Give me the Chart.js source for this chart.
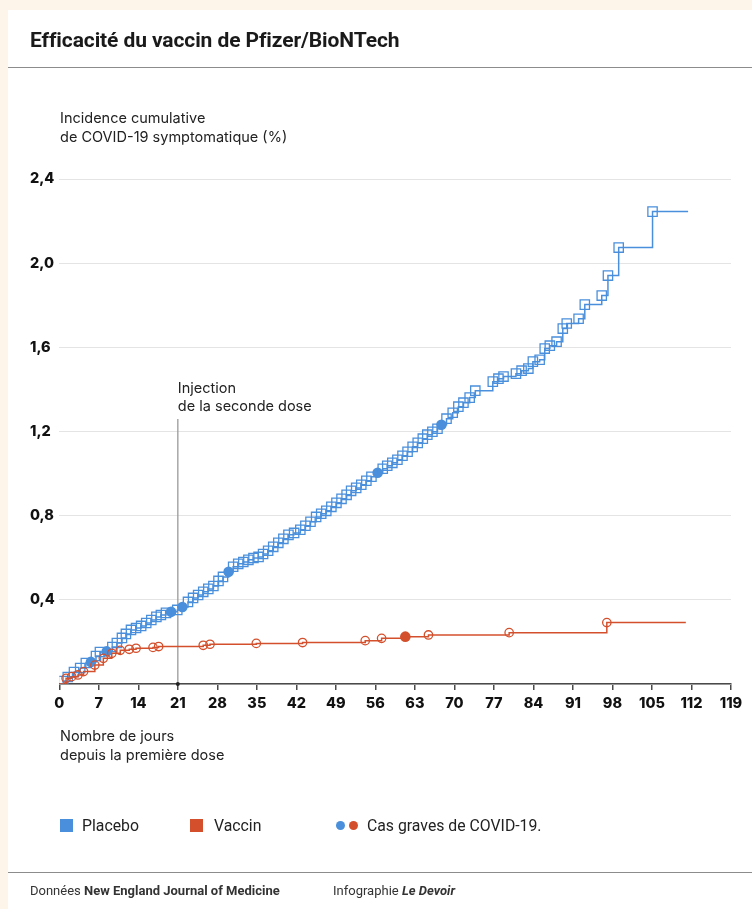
<!DOCTYPE html>
<html lang="fr">
<head>
<meta charset="utf-8">
<script src="https://cdn.jsdelivr.net/npm/chart.js@4.4.1/dist/chart.umd.min.js"></script>
<style>
  html, body { margin: 0; padding: 0; background: #fdf5ea; }
  #page { position: relative; width: 752px; height: 909px; overflow: hidden; }
  #card { position: absolute; left: 8px; top: 10px; right: 0; bottom: 0; background: #fff; }
  canvas { position: absolute; left: 0; top: 0; }
  .txt { position: absolute; color: #222; white-space: nowrap; }
  #title { left: 30px; top: 28px; font: 700 21px Roboto, sans-serif; letter-spacing: -0.1px; color: #1a1a1a; }
  .rule { position: absolute; left: 8px; right: 0; height: 0; border-top: 1.5px solid #8c8c8c; }
  .axt { font: 400 14.5px Inter, sans-serif; line-height: 19px; color: #222; }
  .leg { font: 400 15.8px Roboto, sans-serif; color: #222; }
  .sw { position: absolute; width: 13px; height: 13px; }
  .dot { position: absolute; width: 9px; height: 9px; border-radius: 50%; }
  .foot { font: 400 13px Roboto, sans-serif; color: #333; }
</style>
</head>
<body>
<div id="page">
  <div id="card"></div>
  <canvas id="chart" width="752" height="909"></canvas>
  <div class="txt" id="title">Efficacité du vaccin de Pfizer/BioNTech</div>
  <div class="rule" style="top:67px"></div>
  <div class="txt axt" style="left:60px; top:108px">Incidence cumulative<br>de COVID-19 symptomatique (%)</div>
  <div class="txt axt" style="left:60px; top:726px">Nombre de jours<br>depuis la première dose</div>

  <div class="sw" style="left:60px; top:819px; background:#4a8fdb"></div>
  <div class="txt leg" style="left:82px; top:816px">Placebo</div>
  <div class="sw" style="left:190px; top:819px; background:#d4502d"></div>
  <div class="txt leg" style="left:214px; top:816px">Vaccin</div>
  <div class="dot" style="left:336px; top:821px; background:#4a8fdb"></div>
  <div class="dot" style="left:349px; top:821px; background:#d4502d"></div>
  <div class="txt leg" style="left:367px; top:816px">Cas graves de COVID-19.</div>

  <div class="rule" style="top:872px; border-top-width:1px"></div>
  <div class="txt foot" style="left:30px; top:883px">Données <b>New England Journal of Medicine</b></div>
  <div class="txt foot" style="left:333px; top:883px">Infographie <b><i>Le Devoir</i></b></div>
</div>
<script>
// jours depuis la première dose / incidence cumulative (%)
const placeboDays = [0, 0.7, 1.5, 2.6, 3.7, 4.7, 5.6, 6.5, 7.2, 8.4,
  9.4, 10.2, 11.1, 11.8, 12.7, 13.6, 14.5, 15.4, 16.3, 17.2,
  18.0, 18.9, 19.8, 20.9, 21.8, 22.8, 23.7, 24.6, 25.5, 26.4,
  27.3, 28.2, 29.0, 30.0, 30.8, 31.7, 32.6, 33.5, 34.4, 35.3,
  36.1, 37.0, 37.9, 38.8, 39.7, 40.6, 41.6, 42.7, 43.6, 44.5,
  45.5, 46.4, 47.3, 48.2, 49.1, 50.0, 50.9, 51.7, 52.6, 53.5,
  54.4, 55.3, 56.4, 57.3, 58.1, 59.0, 59.9, 60.8, 61.7, 62.6,
  63.5, 64.4, 65.2, 66.1, 67.0, 67.7, 68.6, 69.7, 70.7, 71.6,
  72.7, 73.7, 76.8, 77.8, 78.7, 80.9, 81.9, 83.1, 83.9, 85.1,
  86.0, 86.9, 88.1, 89.2, 89.9, 92.0, 93.1, 96.1, 97.2, 99.1,
  105.1, 111.4];
const placeboValues = [0, 0.014, 0.033, 0.057, 0.076, 0.100, 0.105, 0.133, 0.152, 0.155,
  0.176, 0.195, 0.219, 0.238, 0.257, 0.266, 0.276, 0.290, 0.304, 0.319,
  0.328, 0.338, 0.343, 0.352, 0.366, 0.390, 0.409, 0.423, 0.438, 0.452,
  0.466, 0.490, 0.509, 0.533, 0.557, 0.571, 0.580, 0.590, 0.599, 0.604,
  0.618, 0.633, 0.652, 0.671, 0.690, 0.709, 0.718, 0.733, 0.752, 0.771,
  0.794, 0.809, 0.823, 0.842, 0.861, 0.880, 0.899, 0.918, 0.932, 0.947,
  0.966, 0.985, 1.004, 1.023, 1.037, 1.051, 1.066, 1.085, 1.104, 1.127,
  1.146, 1.166, 1.185, 1.199, 1.213, 1.232, 1.261, 1.289, 1.318, 1.337,
  1.361, 1.394, 1.437, 1.451, 1.461, 1.475, 1.489, 1.499, 1.532, 1.541,
  1.594, 1.608, 1.627, 1.689, 1.713, 1.736, 1.803, 1.846, 1.941, 2.074,
  2.245, 2.245];
const placeboSevereDays = [5.6, 8.4, 19.8, 21.8, 30.0, 56.4, 67.7];

const vaccineDays = [0, 1.2, 2.2, 3.3, 4.3, 6.3, 7.8, 9.3, 10.8, 12.4, 13.6, 16.6,
  17.6, 25.5, 26.7, 34.9, 43.1, 54.2, 57.1, 61.3, 65.4, 79.7, 97.0, 111.0];
const vaccineValues = [0, 0.027, 0.035, 0.043, 0.059, 0.090, 0.122, 0.146, 0.160, 0.165, 0.170, 0.174,
  0.178, 0.184, 0.189, 0.193, 0.197, 0.206, 0.217, 0.225, 0.233, 0.244, 0.292, 0.292];
const vaccineSevereDays = [61.3];

const xTicks = [0, 7, 14, 21, 28, 35, 42, 49, 56, 63, 70, 77, 84, 91, 98, 105, 112, 119];
const yTicks = [0, 0.4, 0.8, 1.2, 1.6, 2.0, 2.4];
const secondDoseDay = 21;
const secondDoseTop = 1.26;

const BLUE = '#4a8fdb';
const RED = '#d4502d';

function toPoints(xs, ys) {
  return xs.map((x, i) => ({ x: x, y: ys[i] }));
}

function markerStyle(days, severeDays, color, normalStyle, normalRadius) {
  const last = days.length - 1;
  const isSevere = i => severeDays.includes(days[i]);
  return {
    pointStyle: c => isSevere(c.dataIndex) ? 'circle' : normalStyle,
    pointRadius: c => (c.dataIndex === 0 || c.dataIndex === last) ? 0 : (isSevere(c.dataIndex) ? 5.3 : normalRadius),
    pointBackgroundColor: c => isSevere(c.dataIndex) ? color : 'rgba(0,0,0,0)',
    pointBorderColor: color,
    pointBorderWidth: c => isSevere(c.dataIndex) ? 0 : 1.3,
  };
}

const doseLine = {
  id: 'doseLine',
  beforeDatasetsDraw(chart) {
    const { ctx, scales: { x, y } } = chart;
    const px = x.getPixelForValue(secondDoseDay);
    ctx.save();
    ctx.strokeStyle = '#9a9a9a';
    ctx.lineWidth = 1.3;
    ctx.beginPath();
    ctx.moveTo(px, y.getPixelForValue(secondDoseTop));
    ctx.lineTo(px, y.getPixelForValue(0));
    ctx.stroke();
    ctx.fillStyle = '#222';
    ctx.font = '400 14.5px Inter, sans-serif';
    ctx.textBaseline = 'middle';
    ctx.fillText('Injection', px, y.getPixelForValue(secondDoseTop) - 30);
    ctx.fillText('de la seconde dose', px, y.getPixelForValue(secondDoseTop) - 12);
    ctx.restore();
  },
  afterDraw(chart) {
    const { ctx, scales: { x, y } } = chart;
    ctx.save();
    ctx.fillStyle = '#222';
    ctx.beginPath();
    ctx.arc(x.getPixelForValue(secondDoseDay), y.getPixelForValue(0), 2, 0, Math.PI * 2);
    ctx.fill();
    ctx.restore();
  }
};

new Chart(document.getElementById('chart').getContext('2d'), {
  type: 'line',
  data: {
    datasets: [{
      label: 'Vaccin',
      data: toPoints(vaccineDays, vaccineValues),
      borderColor: RED,
      borderWidth: 1.5,
      stepped: true,
      fill: false,
      ...markerStyle(vaccineDays, vaccineSevereDays, RED, 'circle', 4.2)
    }, {
      label: 'Placebo',
      data: toPoints(placeboDays, placeboValues),
      borderColor: BLUE,
      borderWidth: 1.5,
      stepped: true,
      fill: false,
      ...markerStyle(placeboDays, placeboSevereDays, BLUE, 'rect', 6.6)
    }]
  },
  options: {
    responsive: false,
    animation: false,
    devicePixelRatio: 1,
    layout: { padding: { left: 30, top: 179, right: 21, bottom: 185 } },
    plugins: { legend: { display: false }, tooltip: { enabled: false } },
    scales: {
      x: {
        type: 'linear',
        min: 0, max: 119,
        afterBuildTicks: s => { s.ticks = xTicks.map(v => ({ value: v })); },
        afterFit: s => { s.height = 40; },
        border: { display: true, color: '#4a4a4a', width: 1.5 },
        grid: { drawOnChartArea: false, drawTicks: true, tickLength: 6, color: '#4a4a4a', lineWidth: 1.5 },
        ticks: { padding: 5, color: '#111', font: { family: 'Inter', weight: '800', size: 14.5 }, maxRotation: 0, autoSkip: false }
      },
      y: {
        min: 0, max: 2.4,
        afterBuildTicks: s => { s.ticks = yTicks.map(v => ({ value: v })); },
        afterFit: s => { s.width = 29.3; },
        border: { display: false },
        grid: { color: '#e4e4e4', lineWidth: 1, drawTicks: false },
        ticks: {
          padding: 0, crossAlign: 'far', color: '#111',
          font: { family: 'Inter', weight: '800', size: 14.5 },
          callback: v => v === 0 ? '' : v.toFixed(1).replace('.', ',')
        }
      }
    }
  },
  plugins: [doseLine]
});
</script>
</body>
</html>
